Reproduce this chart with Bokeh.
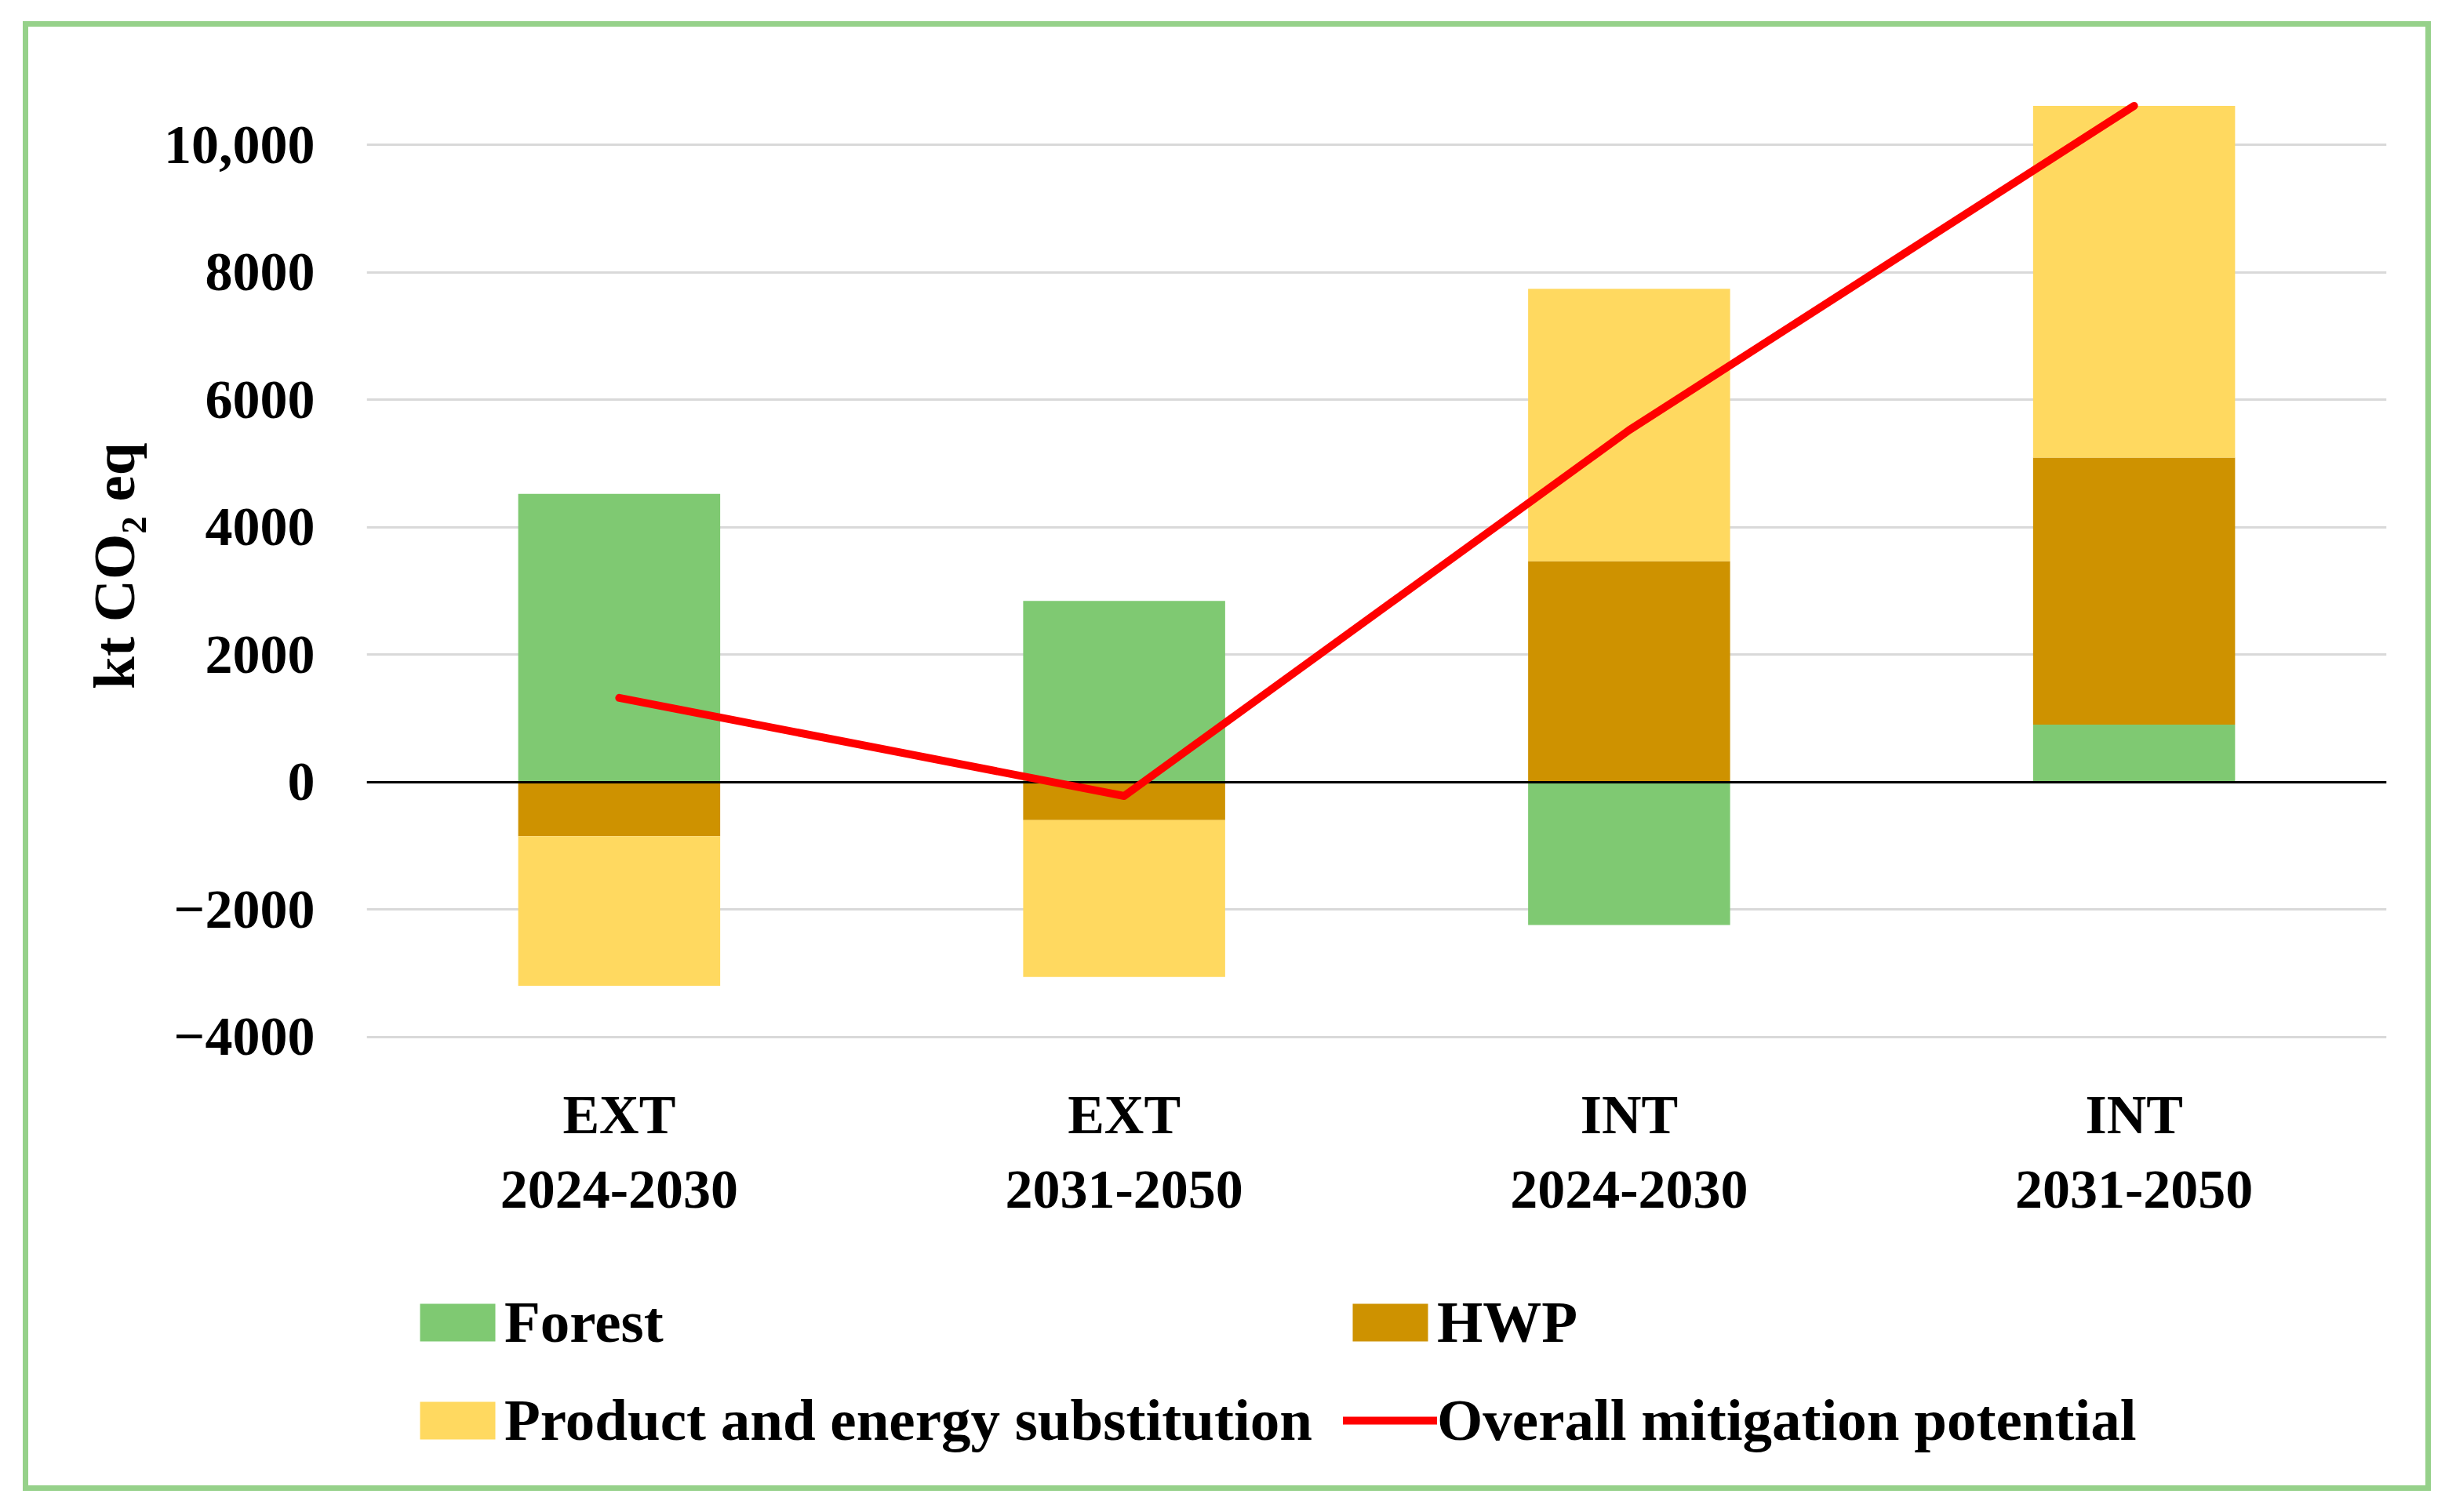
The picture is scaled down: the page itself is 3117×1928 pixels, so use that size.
from bokeh.plotting import figure
from bokeh.models import (ColumnDataSource, FixedTicker, Legend, LegendItem,
                          FactorRange, Range1d, Title)
from bokeh.embed import file_html
from bokeh.resources import INLINE

# ---- data ----
groups = ["EXT", "EXT", "INT", "INT"]
periods = ["2024-2030", "2031-2050", "2024-2030", "2031-2050"]
forest = [4520, 2840, -2245, 900]
hwp = [-850, -600, 3465, 4190]
substitution = [-2350, -2460, 4275, 5520]
overall = [1320, -220, 5520, 10610]
series_names = ["Forest", "HWP", "Product and energy substitution"]
line_name = "Overall mitigation potential"
y_ticks = [-4000, -2000, 0, 2000, 4000, 6000, 8000, 10000]
y_tick_labels = ["\u22124000", "\u22122000", "0", "2000", "4000", "6000", "8000", "10,000"]
y_label = "kt CO\u2082 eq"

# ---- styling / layout ----
colors = ["#7FC972", "#CE9200", "#FFD960"]
line_color = "#FF0000"
FONT = "Liberation Serif"
FS = "70px"
FS_LEG = "75px"
Y_TOP = 10800          # top of the value area
Y_BOTTOM = -10970      # extra room below the axis for category labels + legend
ROW1_Y = -5225         # vertical position of the group names (data units)
ROW2_Y = -6394         # vertical position of the periods (data units)
YTITLE_OFFSET = 445    # px from the top of the frame to the end of the axis title

factors = [f"{g} {p}" for g, p in zip(groups, periods)]

p = figure(x_range=FactorRange(*factors), y_range=Range1d(Y_BOTTOM, Y_TOP),
           width=3070, height=1874, output_backend="svg", toolbar_location=None,
           min_border_left=431, min_border_right=64, min_border_top=85,
           min_border_bottom=20)
p.outline_line_color = None
p.background_fill_color = "white"
p.border_fill_color = "white"
p.styles = {"border": "7px solid #96D18A", "margin-left": "29px", "margin-top": "27px"}

# grid
p.xgrid.grid_line_color = None
p.ygrid.ticker = FixedTicker(ticks=y_ticks)
p.ygrid.grid_line_color = "#D9D9D9"
p.ygrid.grid_line_width = 3

# stacked bars (Excel style: positives up from 0, negatives down from 0)
pos = [0.0] * len(factors)
neg = [0.0] * len(factors)
bar_renderers = []
for name, vals, col in zip(series_names, [forest, hwp, substitution], colors):
    bottoms, tops = [], []
    for i, v in enumerate(vals):
        if v >= 0:
            bottoms.append(pos[i]); tops.append(pos[i] + v); pos[i] += v
        else:
            bottoms.append(neg[i]); tops.append(neg[i] + v); neg[i] += v
    src = ColumnDataSource(dict(x=factors, bottom=bottoms, top=tops))
    r = p.vbar(x="x", bottom="bottom", top="top", width=0.4, source=src,
               fill_color=col, line_color=None)
    bar_renderers.append(r)

# zero line
p.hspan(y=[0], line_color="black", line_width=3)

# overall line
lsrc = ColumnDataSource(dict(x=factors, y=overall))
lr = p.line(x="x", y="y", source=lsrc, line_color=line_color, line_width=10,
            line_cap="round", line_join="round")

# y axis
ya = p.yaxis[0]
ya.ticker = FixedTicker(ticks=y_ticks)
ya.major_label_overrides = {t: s for t, s in zip(y_ticks, y_tick_labels)}
ya.axis_line_color = None
ya.major_tick_line_color = None
ya.minor_tick_line_color = None
ya.major_tick_out = 0
ya.major_tick_in = 0
ya.major_label_standoff = 66
ya.major_label_text_font = FONT
ya.major_label_text_font_style = "bold"
ya.major_label_text_font_size = FS
ya.major_label_text_color = "black"

# y axis title (left panel), placed at the centre of the value area
p.add_layout(Title(text=y_label, align="right", offset=YTITLE_OFFSET,
                   standoff=38, text_font=FONT, text_font_style="bold",
                   text_font_size=FS_LEG, text_color="black"), "left")

# x category labels (two lines) drawn as text below the value area
p.xaxis.visible = False
csrc = ColumnDataSource(dict(x=factors, g=groups, per=periods,
                             y1=[ROW1_Y] * len(factors), y2=[ROW2_Y] * len(factors)))
for ycol, tcol in (("y1", "g"), ("y2", "per")):
    p.text(x="x", y=ycol, text=tcol, source=csrc, text_align="center",
           text_baseline="middle", text_font=FONT, text_font_style="bold",
           text_font_size=FS, text_color="black")

# legend
items = [LegendItem(label=n, renderers=[r]) for n, r in zip(series_names, bar_renderers)]
items.append(LegendItem(label=line_name, renderers=[lr]))
legend = Legend(items=items, orientation="horizontal", ncols=2,
                location=(56, 34), margin=0, padding=0, spacing=39,
                glyph_width=120, glyph_height=60, label_standoff=0,
                label_text_font=FONT, label_text_font_style="bold",
                label_text_font_size=FS_LEG, label_text_color="black",
                border_line_color=None, background_fill_alpha=0)
p.add_layout(legend, "center")

open("out.html", "w").write(file_html(p, INLINE))
